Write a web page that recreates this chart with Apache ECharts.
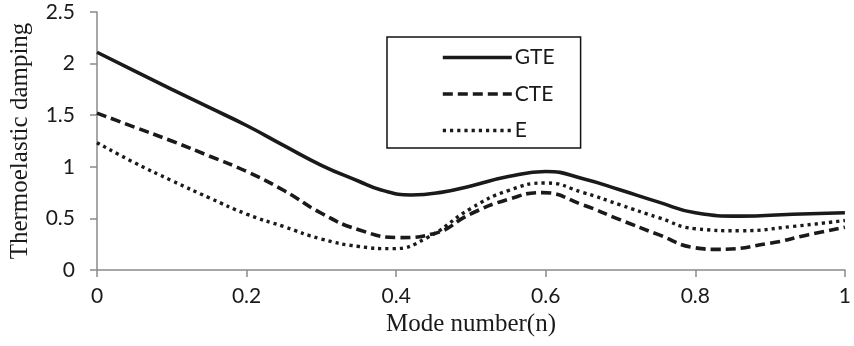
<!DOCTYPE html>
<html>
<head>
<meta charset="utf-8">
<script src="https://cdn.jsdelivr.net/npm/echarts@6/dist/echarts.min.js"></script>
<style>html,body{margin:0;padding:0;background:#fff}#c{width:854px;height:346px}</style>
</head>
<body>
<div id="c"></div>
<script>
var gteX = [0,0.05,0.1,0.15,0.2,0.25,0.3,0.35,0.38,0.42,0.46,0.5,0.55,0.6,0.65,0.7,0.75,0.8,0.86,0.93,1];
var gteY = [2.11,1.93,1.75,1.575,1.40,1.205,1.015,0.86,0.775,0.727,0.752,0.815,0.905,0.955,0.885,0.775,0.66,0.555,0.522,0.54,0.555];
var cteX = [0,0.05,0.1,0.15,0.2,0.25,0.3,0.35,0.405,0.45,0.5,0.55,0.595,0.65,0.7,0.75,0.8,0.83,0.9,0.95,1];
var cteY = [1.52,1.385,1.25,1.105,0.955,0.77,0.55,0.39,0.314,0.352,0.545,0.685,0.75,0.63,0.485,0.345,0.215,0.2,0.26,0.34,0.415];
var eX = [0,0.05,0.1,0.15,0.2,0.25,0.3,0.35,0.395,0.44,0.5,0.55,0.6,0.65,0.7,0.75,0.8,0.86,0.93,1];
var eY = [1.234,1.04,0.866,0.70,0.542,0.42,0.30,0.228,0.207,0.307,0.597,0.77,0.843,0.75,0.63,0.51,0.40,0.38,0.422,0.48];
var seriesNames = ['GTE','CTE','E'];
var xTicks = [0,0.2,0.4,0.6,0.8,1];
var yTicks = [0,0.5,1,1.5,2,2.5];

function pairs(xs, ys){ return xs.map(function(x,i){ return [x, ys[i]]; }); }

var chart = echarts.init(document.getElementById('c'), null, {renderer:'canvas'});
var tickFont = 'Lato, "Open Sans", sans-serif';
var serif = '"Liberation Serif", "Times New Roman", serif';
var solidStyle = {color: '#1a1a1a', width: 3.6, type: 'solid'};
var dashStyle = {color: '#1a1a1a', width: 3.6, type: [10, 5]};
var dotStyle = {color: '#1a1a1a', width: 3.4, type: [3.2, 4]};
chart.setOption({
  animation: false,
  backgroundColor: '#fff',
  grid: {left: 92, right: 8, top: 12, bottom: 76, containLabel: false},
  xAxis: {
    type: 'value', min: xTicks[0], max: xTicks[xTicks.length-1], interval: 0.2,
    name: 'Mode number(n)', nameLocation: 'middle', nameGap: 40,
    nameTextStyle: {fontFamily: serif, fontSize: 25, color: '#1a1a1a'},
    axisLine: {show: true, lineStyle: {color: '#8a8a8a', width: 1.5}},
    axisTick: {show: true, length: 7, lineStyle: {color: '#8a8a8a', width: 1.5}},
    axisLabel: {margin: 16, fontFamily: tickFont, fontSize: 21, color: '#1a1a1a'},
    splitLine: {show: false}
  },
  yAxis: {
    type: 'value', min: yTicks[0], max: yTicks[yTicks.length-1], interval: 0.5,
    name: 'Thermoelastic damping', nameLocation: 'middle', nameGap: 64,
    nameTextStyle: {fontFamily: serif, fontSize: 25, color: '#1a1a1a'},
    axisLine: {show: true, lineStyle: {color: '#8a8a8a', width: 1.5}},
    axisTick: {show: true, length: 7, lineStyle: {color: '#8a8a8a', width: 1.5}},
    axisLabel: {margin: 22, fontFamily: tickFont, fontSize: 21, color: '#1a1a1a'},
    splitLine: {show: false}
  },
  legend: {
    orient: 'vertical', left: 387, top: 37,
    padding: [10, 26, 7, 54],
    borderColor: '#111', borderWidth: 1.5,
    itemWidth: 69, itemHeight: 20, itemGap: 15.5,
    itemStyle: {opacity: 0},
    textStyle: {fontFamily: tickFont, fontSize: 21, color: '#1a1a1a', padding: [0,0,0,-2]},
    data: [
      {name: seriesNames[0], lineStyle: solidStyle},
      {name: seriesNames[1], lineStyle: dashStyle},
      {name: seriesNames[2], lineStyle: dotStyle}
    ]
  },
  series: [
    {name: seriesNames[0], type: 'line', data: pairs(gteX, gteY), smooth: 0.5, symbol: 'none',
     lineStyle: solidStyle, itemStyle: {color: '#1a1a1a'}},
    {name: seriesNames[1], type: 'line', data: pairs(cteX, cteY), smooth: 0.5, symbol: 'none',
     lineStyle: dashStyle, itemStyle: {color: '#1a1a1a'}},
    {name: seriesNames[2], type: 'line', data: pairs(eX, eY), smooth: 0.5, symbol: 'none',
     lineStyle: dotStyle, itemStyle: {color: '#1a1a1a'}}
  ]
});
</script>
</body>
</html>
